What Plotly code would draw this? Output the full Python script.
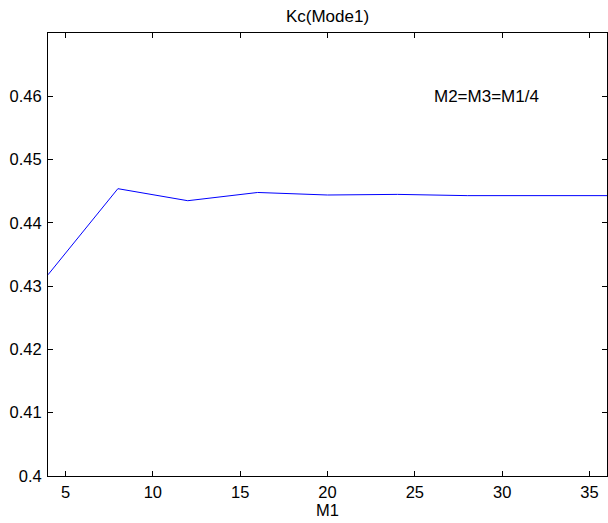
import plotly.graph_objects as go

# M1 values and the resulting Kc for Mode 1
m1 = [4, 8, 12, 16, 20, 24, 28, 32, 36]
kc = [0.4318, 0.4454, 0.4435, 0.4448, 0.4444, 0.4445, 0.4443, 0.4443, 0.4443]

x_ticks = [5, 10, 15, 20, 25, 30, 35]
y_ticks = [0.40, 0.41, 0.42, 0.43, 0.44, 0.45, 0.46]
y_tick_text = ["0.4", "0.41", "0.42", "0.43", "0.44", "0.45", "0.46"]

FONT = "Liberation Sans, Arial, sans-serif"

fig = go.Figure()
fig.add_trace(go.Scatter(
    x=m1, y=kc, mode="lines",
    line=dict(color="rgb(0,0,255)", width=1),
    showlegend=False, hoverinfo="skip",
))

axis_common = dict(
    showline=True, linecolor="black", linewidth=1, mirror="ticks",
    ticks="inside", ticklen=5, tickwidth=1, tickcolor="black",
    showgrid=False, zeroline=False,
    tickfont=dict(family=FONT, size=16.5, color="black"),
)

fig.update_layout(
    width=608, height=523,
    margin=dict(l=48, r=1, t=33, b=47),
    paper_bgcolor="white", plot_bgcolor="white",
    font=dict(family=FONT, size=16.5, color="black"),
    title=dict(text="Kc(Mode1)", x=0.5, xref="paper", xanchor="center",
               y=1 - 16 / 523, yanchor="middle",
               font=dict(family=FONT, size=17, color="black")),
    xaxis=dict(range=[4, 36], tickvals=x_ticks, ticklabelstandoff=1,
               title=dict(text="M1", standoff=3,
                          font=dict(family=FONT, size=16.5, color="black")),
               **axis_common),
    yaxis=dict(range=[0.40, 0.47], tickvals=y_ticks, ticktext=y_tick_text,
               ticklabelstandoff=2, **axis_common),
    annotations=[dict(
        x=26, y=0.46, xref="x", yref="y", text="M2=M3=M1/4",
        showarrow=False, xanchor="left", yanchor="middle",
        font=dict(family=FONT, size=17, color="black"),
    )],
)

fig.write_html("out.html")
